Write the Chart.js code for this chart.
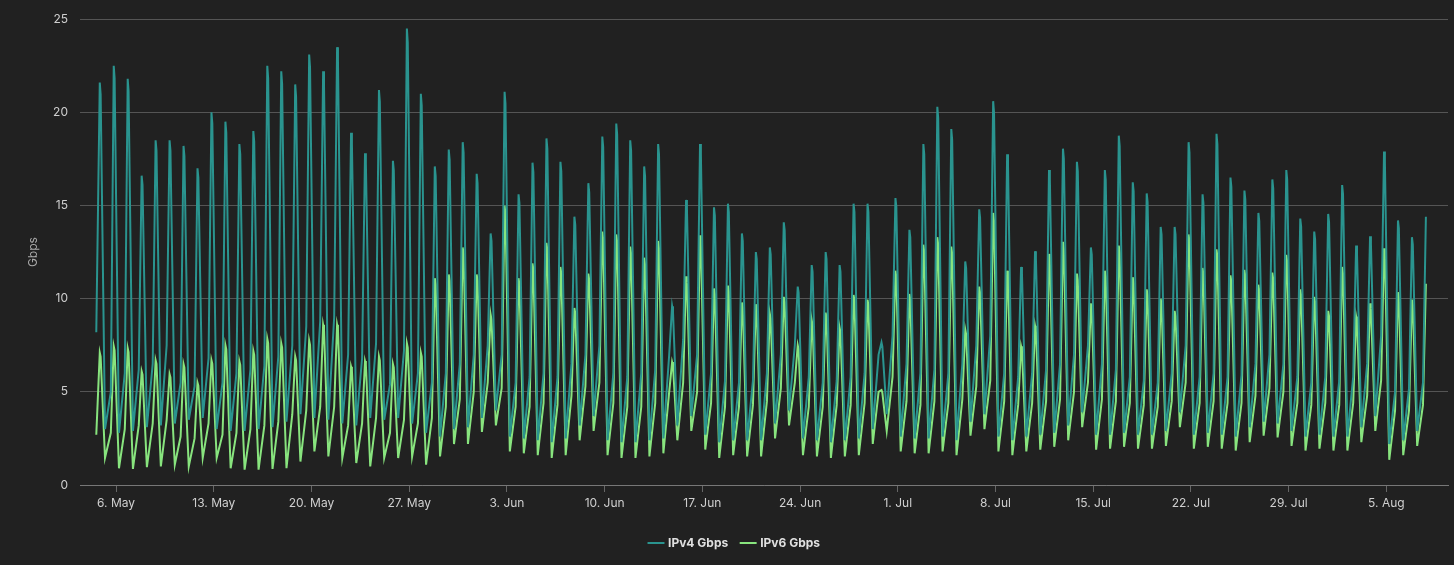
<!DOCTYPE html>
<html><head><meta charset="utf-8">
<script src="https://cdn.jsdelivr.net/npm/chart.js@4"></script>
<style>html,body{margin:0;background:#212121;}#w{width:1454px;height:565px;}</style>
</head><body><div id="w"><canvas id="c"></canvas></div>
<script>
// Daily values, one per day. Peaks: May 4 .. Aug 7 (96 days). Lows/mids: May 5 .. Aug 7 (95 days).
const startDay = '2024-05-04';
const startV4 = 8.2, startV6 = 2.7;
const v4Peak = [21.6,22.5,21.8,16.6,18.5,18.5,18.2,17.0,20.0,19.5,18.3,19.0,22.5,22.2,21.5,23.1,22.2,23.5,18.9,17.8,21.2,17.4,24.5,21.0,17.1,
 18.0,18.4,16.7,13.5,21.1,15.6,17.3,18.6,17.35,14.4,16.2,18.7,19.4,18.5,17.1,18.3,9.6,15.3,18.3,14.9,15.1,13.5,12.5,12.75,
 14.1,10.65,11.8,12.5,11.8,15.1,15.1,7.65,15.4,13.7,18.3,20.3,19.1,12.0,14.8,20.6,17.75,11.7,12.55,16.9,18.05,17.35,12.75,16.9,18.75,
 16.25,15.65,13.85,13.85,18.4,15.6,18.85,16.5,15.8,14.6,16.4,16.9,14.3,13.6,14.55,16.1,12.85,13.35,17.9,14.2,13.3,14.4];
const v6Peak = [7.1,7.45,7.35,6.1,6.7,5.95,6.5,5.5,6.7,7.5,6.65,7.2,7.85,7.6,6.9,7.75,8.6,8.6,6.35,6.65,6.9,6.5,7.6,7.1,11.1,
 11.3,12.75,11.3,9.15,15.0,11.1,11.9,13.0,11.7,9.5,11.35,13.6,13.45,12.8,12.2,13.1,6.6,11.2,13.4,10.55,10.7,9.8,9.7,9.2,
 10.1,7.5,8.85,9.25,8.45,10.2,9.95,5.1,11.5,10.25,12.9,13.3,12.8,8.35,10.65,14.6,11.5,7.45,8.55,12.4,13.05,11.35,9.75,11.5,12.85,
 11.15,10.5,10.0,9.35,13.45,11.65,12.65,11.25,11.55,10.75,11.4,12.35,10.5,10.1,9.35,11.7,9.05,9.75,12.7,10.35,9.95,10.8];
const v4Low = [3.0,2.8,2.9,3.1,3.2,3.3,3.5,3.6,3.0,2.9,2.9,3.0,3.1,3.4,3.8,3.6,3.5,3.3,3.2,3.6,3.5,3.6,3.3,2.8,
 2.6,3.0,3.1,3.6,4.0,2.6,2.5,2.4,2.3,2.5,3.2,3.7,2.4,2.3,2.3,2.4,2.5,3.2,3.7,2.7,2.3,2.4,2.4,2.4,3.3,
 4.0,2.5,2.4,2.3,2.4,2.5,3.0,3.8,2.6,2.5,2.5,2.6,2.4,3.4,3.8,2.6,2.4,2.6,2.7,2.8,3.2,3.9,2.7,2.7,
 2.8,2.7,2.7,2.9,3.9,2.7,2.8,2.7,2.6,3.1,3.4,3.3,2.9,2.6,2.7,2.6,2.6,3.1,3.7,2.2,2.4,2.9];
const v6Low = [1.45,0.9,0.86,0.96,1.0,1.09,1.0,1.45,1.45,0.9,0.82,0.82,0.86,0.9,1.26,1.8,1.53,1.45,1.18,1.0,1.45,1.45,1.53,1.09,
 1.53,2.2,2.2,2.85,3.2,1.8,1.7,1.6,1.45,1.6,2.4,2.9,1.6,1.45,1.45,1.53,1.7,2.4,2.9,1.9,1.45,1.6,1.53,1.53,2.5,
 3.2,1.6,1.53,1.45,1.53,1.6,2.2,2.9,1.8,1.7,1.7,1.8,1.6,2.65,3.0,1.8,1.6,1.8,1.9,2.05,2.4,3.1,1.9,1.95,
 2.05,1.95,1.95,2.1,3.1,1.95,2.05,1.95,1.85,2.3,2.65,2.55,2.1,1.85,1.95,1.85,1.85,2.3,2.9,1.35,1.6,2.1];
const v4Mid = [5.0,6.0,6.2,6.5,7.5,5.5,5.3,6.8,5.5,6.0,6.2,6.4,6.9,7.5,8.5,8.8,9.0,7.0,6.8,7.6,5.4,7.2,6.0,5.5,
 6.0,6.5,7.0,7.5,7.0,5.5,5.8,6.0,5.8,6.5,7.0,7.5,6.0,5.8,6.0,6.2,7.0,7.8,7.0,6.0,5.6,5.5,5.6,6.0,7.0,
 7.5,5.8,5.5,5.6,5.8,6.0,7.0,8.0,6.5,6.0,6.2,6.0,6.5,7.5,8.0,6.0,5.8,6.0,6.2,6.5,7.0,7.5,6.5,6.2,
 5.8,5.6,5.5,6.0,7.5,5.8,6.0,5.8,5.9,6.5,7.0,6.5,5.8,5.5,5.8,5.6,5.8,6.5,8.0,5.0,5.2,5.5];
const v6Mid = [2.8,3.0,3.2,3.3,3.5,2.6,2.5,3.3,2.7,2.8,3.0,3.2,3.4,3.8,4.0,4.2,4.2,3.2,3.3,3.6,2.8,3.5,3.3,3.6,
 4.2,4.6,5.0,5.5,5.2,4.2,4.2,4.4,4.3,4.8,5.3,5.5,4.4,4.2,4.2,4.4,5.0,5.5,5.0,4.4,4.2,4.2,4.3,4.5,5.2,
 5.5,4.2,4.2,4.3,4.3,4.4,5.0,5.8,4.5,4.3,4.5,4.4,4.6,5.3,5.6,4.5,4.3,4.4,4.5,4.6,5.0,5.5,4.6,4.5,
 4.4,4.3,4.2,4.5,5.5,4.4,4.5,4.4,4.4,4.8,5.2,5.0,4.4,4.3,4.4,4.3,4.4,4.8,5.6,4.0,4.0,4.3];
const yTicks = [0,5,10,15,20,25];
const months = ['Jan','Feb','Mar','Apr','May','Jun','Jul','Aug','Sep','Oct','Nov','Dec'];

const H = 3600e3, D = 24*H;
const t0 = Date.UTC(2024,4,4);
function build(peak, low, mid, start){
  const pts = [{x:t0+14*H, y:start},{x:t0+20*H, y:peak[0]},{x:t0+21.5*H, y:peak[0]*0.97}];
  for(let i=0;i<low.length && i+1<peak.length;i++){
    const d = t0+(i+1)*D;
    pts.push({x:d+5*H,y:low[i]},{x:d+15*H,y:mid[i]},{x:d+20*H,y:peak[i+1]},{x:d+21.5*H,y:peak[i+1]*0.97});
  }
  pts.pop();
  return pts;
}
const xMin = Date.UTC(2024,4,3,10), xMax = Date.UTC(2024,7,9,10);
new Chart(document.getElementById('c'),{
  type:'line',
  data:{datasets:[
    {label:'IPv4 Gbps',data:build(v4Peak,v4Low,v4Mid,startV4),borderColor:'#2a948f',backgroundColor:'#2a948f',borderWidth:2,pointRadius:0,tension:0},
    {label:'IPv6 Gbps',data:build(v6Peak,v6Low,v6Mid,startV6),borderColor:'#88e47e',backgroundColor:'#88e47e',borderWidth:2,pointRadius:0,tension:0}
  ]},
  options:{
    responsive:true,maintainAspectRatio:false,animation:false,
    layout:{padding:{top:3,right:6,left:22,bottom:6}},
    plugins:{tooltip:{enabled:false},
      legend:{position:'bottom',labels:{color:'#e0e0e0',font:{family:'Inter, sans-serif',size:12,weight:'bold'},usePointStyle:true,pointStyle:'line',boxWidth:14,padding:14}}},
    scales:{
      x:{type:'linear',min:xMin,max:xMax,
        afterBuildTicks:(ax)=>{const t=[];for(let d=Date.UTC(2024,4,6);d<=xMax;d+=7*D)t.push({value:d});ax.ticks=t;},
        afterFit:(ax)=>{ax.height=38;},
        ticks:{color:'#cfcfcf',font:{family:'Inter, sans-serif',size:12},maxRotation:0,autoSkip:false,padding:4,
          callback:(v)=>{const d=new Date(v);return d.getUTCDate()+'. '+months[d.getUTCMonth()];}},
        grid:{drawOnChartArea:false,color:'#666',tickLength:7},
        border:{color:'#777'}},
      y:{min:0,max:25,
        afterBuildTicks:(ax)=>{ax.ticks=yTicks.map(v=>({value:v}));},
        afterFit:(ax)=>{ax.width=58;},
        title:{display:true,text:'Gbps',color:'#aaa',font:{family:'Inter, sans-serif',size:12},padding:{bottom:0}},
        ticks:{color:'#cfcfcf',font:{family:'Inter, sans-serif',size:12},padding:12},
        grid:{color:'#555',drawTicks:false},border:{display:false}}
    }
  }
});
</script></body></html>
